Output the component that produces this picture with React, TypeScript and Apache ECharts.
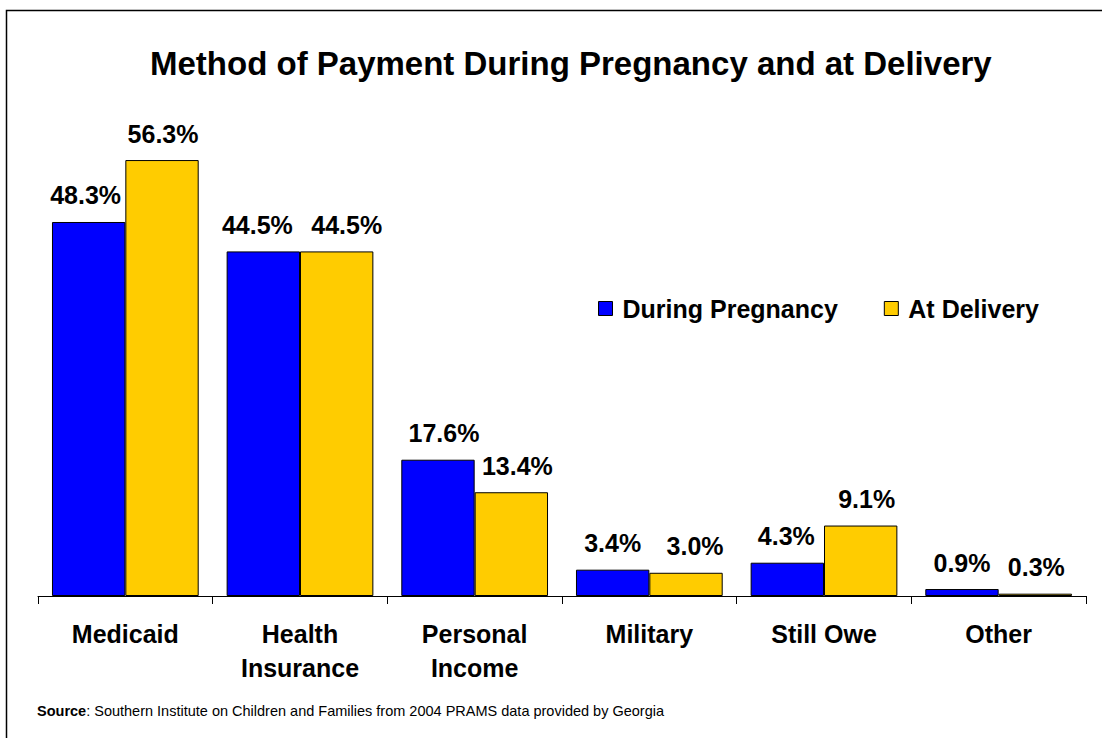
import React, { useEffect, useRef } from "react";
import * as echarts from "echarts";

const categories = ["Medicaid", "Health\nInsurance", "Personal\nIncome", "Military", "Still Owe", "Other"];
const duringPregnancy = [48.3, 44.5, 17.6, 3.4, 4.3, 0.9];
const atDelivery = [56.3, 44.5, 13.4, 3.0, 9.1, 0.3];
const seriesNames = ["During Pregnancy", "At Delivery"];
const titleText = "Method of Payment During Pregnancy and at Delivery";
const sourceLabel = "Source";
const sourceText = ": Southern Institute on Children and Families from 2004 PRAMS data provided by Georgia";

// horizontal nudges of the value labels (style only)
const nudgeDuring = [-3, -6, 6, 0, -1, 0];
const nudgeDelivery = [1, 10, 6, 9, 6, 1];

const FONT = "Liberation Sans, Arial, Helvetica, sans-serif";

export default function App() {
  const ref = useRef<HTMLDivElement>(null);
  useEffect(() => {
    if (!ref.current) return;
    const chart = echarts.init(ref.current, undefined, { renderer: "svg" });
    const label = {
      show: true,
      position: "top",
      distance: 14,
      formatter: (p: any) => p.value.toFixed(1) + "%",
      fontFamily: FONT,
      fontWeight: "bold",
      fontSize: 25,
      color: "#000",
    };
    const withNudge = (vals: number[], nudges: number[]) =>
      vals.map((v, i) => ({ value: v, label: { offset: [nudges[i], 0] } }));
    chart.setOption({
      animation: false,
      backgroundColor: "#fff",
      textStyle: { fontFamily: FONT },
      title: {
        text: titleText,
        left: 145,
        top: 42,
        textStyle: { fontFamily: FONT, fontWeight: "bold", fontSize: 33, color: "#000" },
      },
      legend: {
        left: 598,
        top: 296,
        padding: 0,
        itemWidth: 14,
        itemHeight: 14,
        itemGap: 46,
        icon: "rect",
        itemStyle: { borderColor: "#000", borderWidth: 1 },
        textStyle: { fontFamily: FONT, fontWeight: "bold", fontSize: 25, color: "#000", padding: [0, 0, 0, 5] },
        data: seriesNames,
      },
      grid: { left: 38, right: 16, top: 131.4, bottom: 142, containLabel: false },
      xAxis: {
        type: "category",
        data: categories,
        axisLine: { show: true, lineStyle: { color: "#000", width: 1 } },
        axisTick: { show: true, length: 8, inside: false, lineStyle: { color: "#000" } },
        axisLabel: {
          interval: 0,
          margin: 21,
          fontFamily: FONT,
          fontWeight: "bold",
          fontSize: 25,
          lineHeight: 34,
          color: "#000",
        },
      },
      yAxis: {
        type: "value",
        min: 0,
        max: 60,
        show: false,
        splitLine: { show: false },
      },
      series: [
        {
          name: seriesNames[0],
          type: "bar",
          data: withNudge(duringPregnancy, nudgeDuring),
          barGap: "0%",
          barCategoryGap: "16%",
          itemStyle: { color: "#0000ff", borderColor: "#000", borderWidth: 1 },
          label,
        },
        {
          name: seriesNames[1],
          type: "bar",
          data: withNudge(atDelivery, nudgeDelivery),
          barGap: "0%",
          barCategoryGap: "16%",
          itemStyle: { color: "#ffcc00", borderColor: "#000", borderWidth: 1 },
          label,
        },
      ],
      graphic: [
        {
          type: "rect",
          shape: { x: 6.5, y: 10.5, width: 1200, height: 800 },
          style: { fill: "none", stroke: "#000", lineWidth: 1.5 },
          silent: true,
        },
        {
          type: "text",
          left: 37,
          top: 703,
          style: {
            rich: {
              b: { fontFamily: FONT, fontWeight: "bold", fontSize: 14.5, fill: "#000" },
              n: { fontFamily: FONT, fontSize: 14.5, fill: "#000" },
            },
            text: "{b|" + sourceLabel + "}{n|" + sourceText + "}",
          },
        },
      ],
    });
    return () => chart.dispose();
  }, []);
  return <div ref={ref} style={{ width: 1102, height: 738, position: "absolute", left: 0, top: 0 }} />;
}
